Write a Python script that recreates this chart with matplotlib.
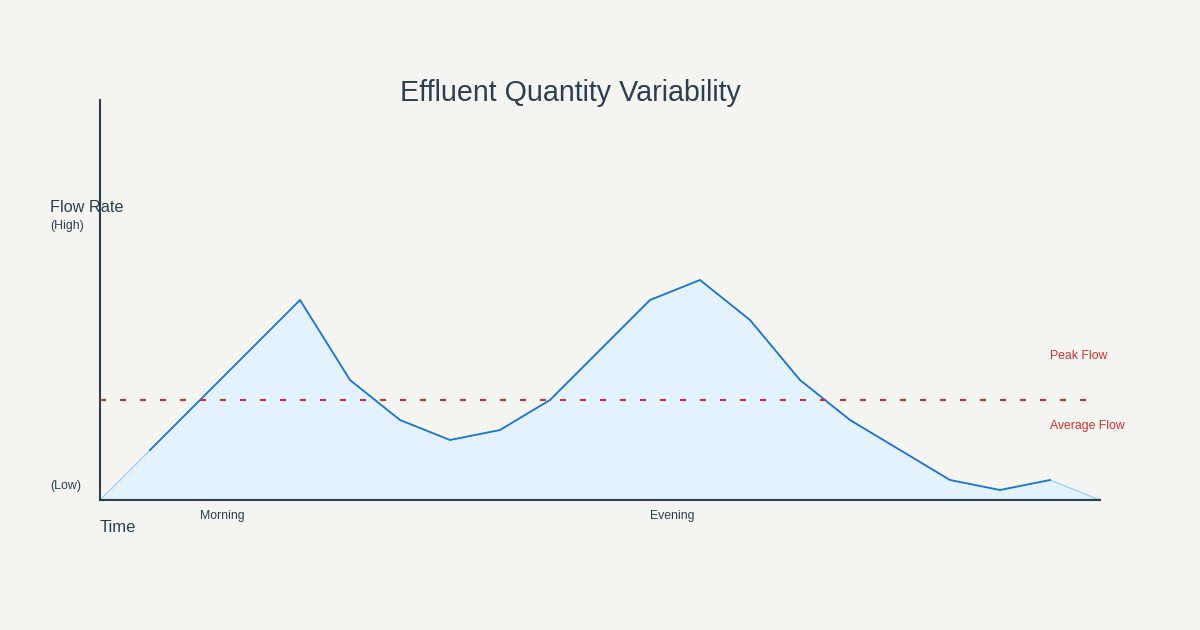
import numpy as np
import matplotlib.pyplot as plt

# time steps (0..20) and flow rate values (arbitrary units, 0..400 axis)
hours = list(range(21))
flow = [0, 50, 100, 150, 200, 120, 80, 60, 70, 100, 150,
        200, 220, 180, 120, 80, 50, 20, 10, 20, 0]
average_flow = 100
time_labels = ['Morning', 'Evening']
time_label_pos = [2, 11]

bg = '#f4f5f0'
dark = '#2c3e50'
blue = '#1976d2'
red = '#d32f2f'

plt.rcParams['font.family'] = ['Liberation Sans', 'DejaVu Sans']

fig = plt.figure(figsize=(12, 6.3), dpi=100, facecolor=bg)
# axes box: x 100..1100 px, y 100..500 px
ax = fig.add_axes([100 / 1200, 130 / 630, 1000 / 1200, 400 / 630])
ax.set_facecolor(bg)
ax.set_xlim(0, 20)
ax.set_ylim(0, 400)

# area under the curve
ax.fill_between(hours, flow, 0, color='#e3f2fd', zorder=1)
ax.plot(hours, flow, color='#90caf9', lw=0.8, zorder=2)
# main stroke (skips first and last segment)
ax.plot(hours[1:-1], flow[1:-1], color=blue, lw=1.3, zorder=3)
ax.plot([0, 20], [0.6, 0.6], color='#90caf9', lw=1, zorder=2)

# average flow reference line
ax.plot([0, 19.8], [average_flow, average_flow], color=red, lw=1.5,
        linestyle=(0, (4.32 / 1.5, 10.08 / 1.5)), zorder=4)

# axes lines
for s in ['top', 'right']:
    ax.spines[s].set_visible(False)
ax.spines['left'].set_color(dark)
ax.spines['left'].set_linewidth(1.5)
ax.spines['bottom'].set_color(dark)
ax.spines['bottom'].set_linewidth(1.5)
ax.set_xticks([])
ax.set_yticks([])

# text (positions in data units: x=(px-100)/50, y=500-py)
fig.text(570 / 1200, 1 - 93 / 630, 'Effluent Quantity Variability',
         fontsize=20.6, color=dark, ha='center', va='center')
ax.text(-1, 500 - 207, 'Flow Rate', fontsize=11.7, color=dark,
        ha='left', va='center', clip_on=False)
ax.text(-1, 500 - 226, '(High)', fontsize=8.9, color=dark,
        ha='left', va='center', clip_on=False)
ax.text(-1, 500 - 486, '(Low)', fontsize=8.9, color=dark,
        ha='left', va='center', clip_on=False)
ax.text(0, 500 - 527, 'Time', fontsize=12, color=dark,
        ha='left', va='center', clip_on=False)
for lbl, pos in zip(time_labels, time_label_pos):
    ax.text(pos, 500 - 516, lbl, fontsize=8.8, color=dark,
            ha='left', va='center', clip_on=False)
ax.text(19, 500 - 356, 'Peak Flow', fontsize=8.8, color=red,
        ha='left', va='center', clip_on=False)
ax.text(19, 500 - 426, 'Average Flow', fontsize=8.8, color=red,
        ha='left', va='center', clip_on=False)

fig.savefig('out.png', dpi=100, facecolor=bg)
